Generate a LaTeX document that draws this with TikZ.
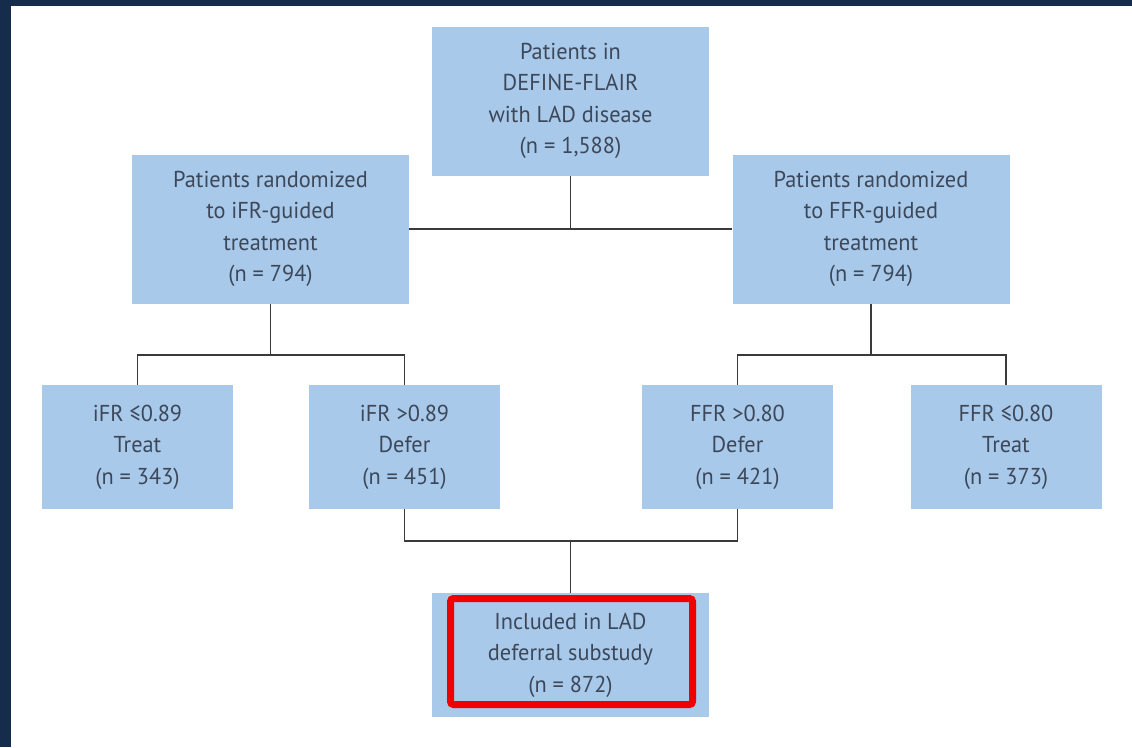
\documentclass[tikz,border=0pt]{standalone}
\usepackage{fontspec}
\setmainfont{PT Sans}[FakeStretch=0.97]
\definecolor{framenavy}{HTML}{162C4C}
\definecolor{boxblue}{HTML}{A9C9EA}
\definecolor{textgray}{HTML}{3C4859}
\definecolor{linegray}{HTML}{3A3A3A}
\definecolor{markred}{HTML}{F00000}

\begin{document}
\begin{tikzpicture}[
  x=1pt,
  y=-1pt, % <-- pixel grid, y downwards
  every node/.style={font=\fontsize{23}{31.5}\selectfont, text=textgray},
  box/.style={fill=boxblue, align=center, inner sep=0pt},
  bigbox/.style={box, minimum width=277, minimum height=149},
  smallbox/.style={box, minimum width=191, minimum height=124},
  link/.style={draw=linegray, line width=1.8pt}
]

% Frame
\useasboundingbox (0,0) rectangle (1132,747);
\fill[framenavy] (0,0) rectangle (1132,6);
\fill[framenavy] (0,0) rectangle (11,747);

% --- Row 1 ---
\node[bigbox] (define) at (570.5,101) {Patients in\\DEFINE-FLAIR\\with LAD disease\\(n = 1,588)};
\node[bigbox] (ifr) at (270.5,229) {Patients randomized\\to iFR-guided\\treatment\\(n = 794)};
\node[bigbox] (ffr) at (871,229) {Patients randomized\\to FFR-guided\\treatment\\(n = 794)};

% --- Row 2 ---
\node[smallbox] (ifrtreat) at (137.5,447) {iFR ≤0.89\\Treat\\(n = 343)};
\node[smallbox] (ifrdefer) at (404.5,447) {iFR >0.89\\Defer\\(n = 451)};
\node[smallbox] (ffrdefer) at (737.5,447) {FFR >0.80\\Defer\\(n = 421)};
\node[smallbox] (ffrtreat) at (1006,447) {FFR ≤0.80\\Treat\\(n = 373)};

% --- Row 3 ---
\node[box, minimum width=277, minimum height=124] (substudy) at (570.5,655) {Included in LAD\\deferral substudy\\(n = 872)};
\draw[markred, line width=7pt, rounded corners=3pt] (450.5,598.5) rectangle (692.5,704.5);

% Connectors
\coordinate (ifrsplit) at (270.5,355);
\coordinate (ffrsplit) at (871,355);
\coordinate (defermerge) at (570.5,541);
\draw[link] (ifr.east) -- (ffr.west);
\draw[link] (define.south) -- (define.south |- ifr.east);
\draw[link] (ifr.south) -- (ifrsplit);
\draw[link] (ifrtreat.north) |- (ifrsplit) -| (ifrdefer.north);
\draw[link] (ffr.south) -- (ffrsplit);
\draw[link] (ffrdefer.north) |- (ffrsplit) -| (ffrtreat.north);
\draw[link] (ifrdefer.south) |- (defermerge) -| (ffrdefer.south);
\draw[link] (defermerge) -- (substudy.north);

\end{tikzpicture}
\end{document}
